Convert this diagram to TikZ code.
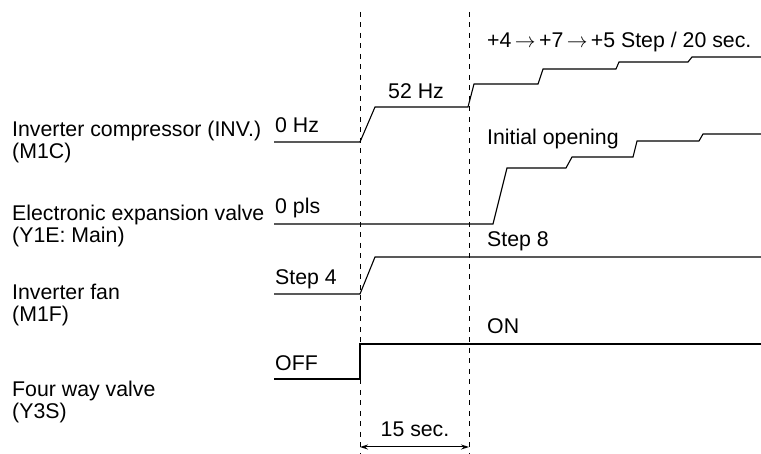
\documentclass[tikz,border=0pt]{standalone}
\usepackage{fontspec}
\setmainfont{Liberation Sans}
\usetikzlibrary{arrows.meta}
\newcommand{\myarr}{\hspace{-2.5pt}$\rightarrow$\hspace{-2.5pt}}
\tikzset{
  wave/.style={line width=1.1pt, line join=miter},
  guide/.style={line width=0.9pt, dash pattern=on 5pt off 5.5pt},
  lbl/.style={anchor=base west, inner sep=0pt, font=\fontsize{21.3}{22}\selectfont},
  dim/.style={line width=1pt, {Stealth[length=8pt,width=5pt]}-{Stealth[length=8pt,width=5pt]}}
}
\begin{document}
\begin{tikzpicture}[x=1pt,y=-1pt]
\useasboundingbox (0,0) rectangle (761,454);
% guide lines
\coordinate (g1t) at (360,12); \coordinate (g1b) at (360,454);
\coordinate (g2t) at (469,12); \coordinate (g2b) at (469,454);
\draw[guide] (g1t) -- (g1b);
\draw[guide] (g2t) -- (g2b);
% left labels
\node[lbl] (l1a) at (12,137) {Inverter compressor (INV.)};
\node[lbl] (l1b) at (12,159) {(M1C)};
\node[lbl] (l2a) at (12,221) {Electronic expansion valve};
\node[lbl] (l2b) at (12,243) {(Y1E: Main)};
\node[lbl] (l3a) at (12,300) {Inverter fan};
\node[lbl] (l3b) at (12,322) {(M1F)};
\node[lbl] (l4a) at (12,397) {Four way valve};
\node[lbl] (l4b) at (12,419) {(Y3S)};
% compressor
\draw[wave] (274,142) -- (360,142) -- (375,107) -- (468,107) -- (474,84) -- (538,84) -- (543,69) -- (616,69) -- (619,62) -- (688,62) -- (692,57) -- (761,57);
\node[lbl] (t0hz) at (275,133) {0 Hz};
\node[lbl] (t52) at (388,99) {52 Hz};
\node[lbl] (tstep) at (487,48) {+4 \myarr{} +7 \myarr{} +5 Step / 20 sec.};
% expansion valve
\draw[wave] (274,224) -- (493,224) -- (507,168) -- (566,168) -- (572,157) -- (633,157) -- (637,141) -- (699,141) -- (703,134) -- (761,134);
\node[lbl] (t0pls) at (275,214) {0 pls};
\node[lbl] (tinit) at (487,145) {Initial opening};
% fan
\draw[wave] (274,294) -- (360,294) -- (375,257) -- (761,257);
\node[lbl] (ts4) at (275,285) {Step 4};
\node[lbl] (ts8) at (487,247) {Step 8};
% four way valve
\draw[wave] (274,379) -- (360,379) -- (360,344) -- (761,344);
\node[lbl] (toff) at (275,371) {OFF};
\node[lbl] (ton) at (487,334) {ON};
% dimension
\coordinate (d1) at (360,447);
\coordinate (d2) at (469,447);
\draw[dim] (d1) -- (d2);
\node[lbl, anchor=base] (t15) at (415,437) {15 sec.};
\end{tikzpicture}
\end{document}
